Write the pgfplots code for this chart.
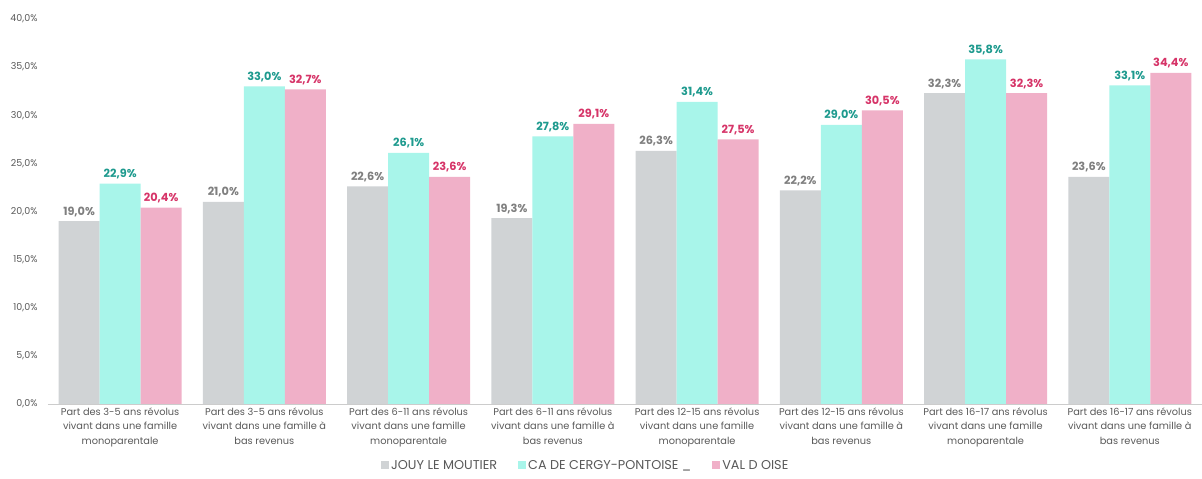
\documentclass[border=0pt]{standalone}
\usepackage{pgfplots}
\pgfplotsset{compat=1.18}
\usepackage{fontspec}
\setmainfont{Poppins}
\definecolor{cgrey}{HTML}{D0D3D5}
\definecolor{ccyan}{HTML}{A8F5EA}
\definecolor{cpink}{HTML}{F0B0C8}
\definecolor{lgrey}{HTML}{7F7F7F}
\definecolor{lteal}{HTML}{1E9A8E}
\definecolor{lpink}{HTML}{D63468}
\definecolor{ticktxt}{HTML}{595959}
\begin{document}
\begin{tikzpicture}[x=1pt,y=1pt]
\useasboundingbox (0,0) rectangle (1202,479);
\begin{axis}[
  at={(48pt,75pt)}, anchor=south west,
  scale only axis, width=1154pt, height=385pt,
  ybar=0pt, bar width=41pt,
  ymin=0, ymax=40, xmin=-0.5, xmax=7.5,
  ytick={0,5,...,40},
  axis y line*=none, axis x line*=bottom,
  axis line style={draw=none},
  y axis line style={draw=none},
  x axis line style={draw=black!20},
  major tick length=0pt,
  /pgf/number format/assume math mode=true,
  yticklabel={\pgfmathprintnumber[fixed,fixed zerofill,precision=1,use comma]{\tick}\%},
  yticklabel style={font=\fontsize{9.5}{10}\selectfont, text=ticktxt, xshift=-7pt},
  xtick={0,...,7},
  xticklabels={
    {Part des 3-5 ans révolus\\vivant dans une famille\\monoparentale},
    {Part des 3-5 ans révolus\\vivant dans une famille à\\bas revenus},
    {Part des 6-11 ans révolus\\vivant dans une famille\\monoparentale},
    {Part des 6-11 ans révolus\\vivant dans une famille à\\bas revenus},
    {Part des 12-15 ans révolus\\vivant dans une famille\\monoparentale},
    {Part des 12-15 ans révolus\\vivant dans une famille à\\bas revenus},
    {Part des 16-17 ans révolus\\vivant dans une famille\\monoparentale},
    {Part des 16-17 ans révolus\\vivant dans une famille à\\bas revenus}},
  xticklabel style={align=center, font=\fontsize{9.8}{14.8}\selectfont, text=ticktxt, yshift=0pt},
  nodes near coords={\pgfmathprintnumber[fixed,fixed zerofill,precision=1,use comma]{\pgfplotspointmeta}\%},
  nodes near coords style={font=\fontsize{11.3}{13}\selectfont\bfseries, /pgf/number format/assume math mode=true, yshift=1pt},
  legend style={at={(0.466,-0.135)}, anchor=north, draw=none, legend columns=3,
    font=\fontsize{12.8}{15}\selectfont, text=ticktxt,
    /tikz/every even column/.append style={column sep=19pt}},
  legend image code/.code={\fill[#1] (0pt,-4pt) rectangle (8pt,4pt);},
]
\addplot[fill=cgrey, draw=none, every node near coord/.append style={text=lgrey}] coordinates {(0,19.0) (1,21.0) (2,22.6) (3,19.3) (4,26.3) (5,22.2) (6,32.3) (7,23.6)};
\addplot[fill=ccyan, draw=none, every node near coord/.append style={text=lteal}] coordinates {(0,22.9) (1,33.0) (2,26.1) (3,27.8) (4,31.4) (5,29.0) (6,35.8) (7,33.1)};
\addplot[fill=cpink, draw=none, every node near coord/.append style={text=lpink}] coordinates {(0,20.4) (1,32.7) (2,23.6) (3,29.1) (4,27.5) (5,30.5) (6,32.3) (7,34.4)};
\legend{JOUY LE MOUTIER, CA DE CERGY-PONTOISE \_, VAL D OISE}
\end{axis}
\end{tikzpicture}
\end{document}
